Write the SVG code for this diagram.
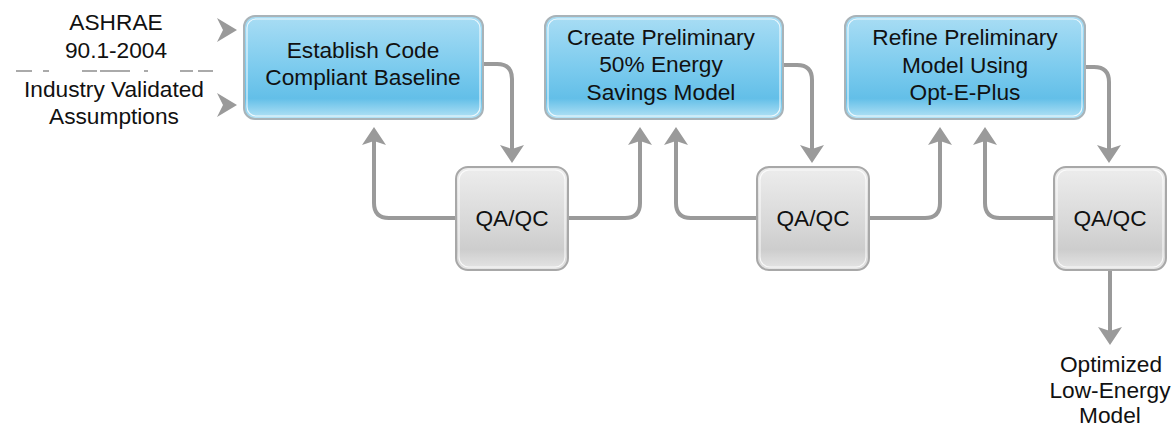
<svg xmlns="http://www.w3.org/2000/svg" width="1173" height="427" viewBox="0 0 1173 427">
<style>
text{font-family:"Liberation Sans",Arial,sans-serif;font-size:22.7px;fill:#111;text-anchor:middle}
.blue{fill:url(#gb);stroke:#a9b3b8;stroke-width:2}
.gray{fill:url(#gg);stroke:#a8a8a8;stroke-width:2}
.hl{fill:none;stroke:#fff;stroke-opacity:0.8;stroke-width:1.2}
.con{fill:none;stroke:#9a9a9a;stroke-width:4;marker-end:url(#ah)}
</style>
<defs>
<linearGradient id="gb" x1="0" y1="0" x2="0" y2="1">
<stop offset="0" stop-color="#a9ddf4"/>
<stop offset="0.5" stop-color="#7ccbee"/>
<stop offset="0.8" stop-color="#63bfe8"/>
<stop offset="1" stop-color="#b8e4f6"/>
</linearGradient>
<linearGradient id="gg" x1="0" y1="0" x2="0" y2="1">
<stop offset="0" stop-color="#ededed"/>
<stop offset="0.6" stop-color="#d6d6d6"/>
<stop offset="0.8" stop-color="#cdcdcd"/>
<stop offset="1" stop-color="#e6e6e6"/>
</linearGradient>
<marker id="ah" markerUnits="userSpaceOnUse" markerWidth="30" markerHeight="30" refX="0" refY="0" orient="auto" overflow="visible">
<path d="M-10,-12 L8,0 L-10,12 L-6,0 Z" fill="#9a9a9a"/>
</marker>
</defs>

<g id="inputs">
<text x="116" y="30">ASHRAE</text>
<text x="116" y="58">90.1-2004</text>
<path d="M16,71 H213" stroke="#aaa" stroke-width="2" stroke-dasharray="16 11 6 33 15 3 30 14 4 32 13 5 15"/>
<text x="114" y="97">Industry Validated</text>
<text x="114" y="124">Assumptions</text>
<path d="M217,18 L237,30 L217,42 L223,30 Z" fill="#9a9a9a"/>
<path d="M217,93 L237,105 L217,117 L223,105 Z" fill="#9a9a9a"/>
</g>

<g id="connectors">
<path class="con" d="M483,64 H497 Q512,64 512,79 V155"/>
<path class="con" d="M455,218 H389 Q374,218 374,203 V135"/>
<path class="con" d="M568,218 H625 Q640,218 640,203 V135"/>
<path class="con" d="M783,65 H797 Q812,65 812,80 V155"/>
<path class="con" d="M756,218 H691 Q676,218 676,203 V135"/>
<path class="con" d="M869,218 H925 Q940,218 940,203 V135"/>
<path class="con" d="M1085,67 H1094 Q1109,67 1109,82 V155"/>
<path class="con" d="M1053,218 H1000 Q985,218 985,203 V135"/>
<path class="con" d="M1110,270 V337"/>
</g>

<g id="n1">
<rect class="blue" x="244" y="16" width="239" height="103" rx="11"/>
<rect class="hl" x="247" y="19" width="233" height="97" rx="9"/>
<text x="363" y="58">Establish Code</text>
<text x="363" y="85">Compliant Baseline</text>
</g>
<g id="n2">
<rect class="blue" x="545" y="16" width="238" height="103" rx="11"/>
<rect class="hl" x="548" y="19" width="232" height="97" rx="9"/>
<text x="661" y="45">Create Preliminary</text>
<text x="661" y="72">50% Energy</text>
<text x="661" y="100">Savings Model</text>
</g>
<g id="n3">
<rect class="blue" x="845" y="16" width="240" height="103" rx="11"/>
<rect class="hl" x="848" y="19" width="234" height="97" rx="9"/>
<text x="965" y="45">Refine Preliminary</text>
<text x="965" y="73">Model Using</text>
<text x="965" y="100">Opt-E-Plus</text>
</g>
<g id="q1">
<rect class="gray" x="456" y="167" width="112" height="103" rx="12"/>
<rect class="hl" x="459" y="170" width="106" height="97" rx="10"/>
<text x="512" y="226">QA/QC</text>
</g>
<g id="q2">
<rect class="gray" x="757" y="167" width="112" height="103" rx="12"/>
<rect class="hl" x="760" y="170" width="106" height="97" rx="10"/>
<text x="813" y="226">QA/QC</text>
</g>
<g id="q3">
<rect class="gray" x="1054" y="167" width="112" height="103" rx="12"/>
<rect class="hl" x="1057" y="170" width="106" height="97" rx="10"/>
<text x="1110" y="226">QA/QC</text>
</g>
<g id="output">
<text x="1111" y="372">Optimized</text>
<text x="1110" y="398">Low-Energy</text>
<text x="1110" y="423">Model</text>
</g>
</svg>
